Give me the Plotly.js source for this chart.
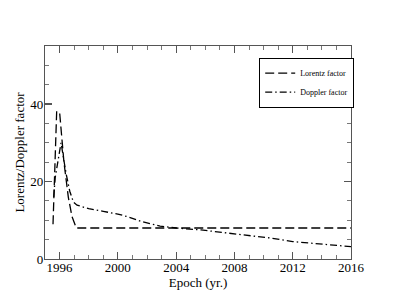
<!DOCTYPE html>
<html><head><meta charset="utf-8">
<script src="https://cdn.plot.ly/plotly-3.0.1.min.js"></script>
<style>html,body{margin:0;padding:0;background:#fff}#c{width:395px;height:305px}</style>
</head><body><div id="c"></div>
<script>
const lorentzYears = [1995.55, 1995.8, 1996.0, 1996.3, 1996.6, 1996.85, 1997.15, 2016];
const lorentzValues = [9, 38, 38, 25, 16, 11, 8, 8];
const dopplerYears = [1995.6, 1995.7, 1996.1, 1996.45, 1996.7, 1996.95, 1997.2, 1998, 1999, 2000, 2000.7, 2001.7, 2002.9, 2004, 2005.7, 2008, 2010.5, 2012, 2014, 2016];
const dopplerValues = [16, 21, 30, 22, 17.5, 14.7, 13.9, 13, 12.3, 11.6, 10.9, 9.6, 8.5, 8, 7.5, 6.5, 5.4, 4.5, 3.8, 3.2];
const seriesNames = ["Lorentz factor", "Doppler factor"];
const xTicks = [1996, 2000, 2004, 2008, 2012, 2016];
const yTicks = [0, 20, 40];

const font = "Liberation Serif, Times New Roman, serif";
const data = [
  {x: lorentzYears, y: lorentzValues, name: seriesNames[0], mode: "lines",
   line: {color: "#000", width: 1.3, dash: "9px,4px"}},
  {x: dopplerYears, y: dopplerValues, name: seriesNames[1], mode: "lines",
   line: {color: "#000", width: 1.3, dash: "7px,3px,1.5px,3px"}}
];
const axisCommon = {
  showline: true, linecolor: "#555", linewidth: 1.2, mirror: "ticks",
  ticks: "inside", ticklen: 7, tickwidth: 1.2, tickcolor: "#555",
  showgrid: false, zeroline: false,
  tickfont: {family: font, size: 13, color: "#000"},
  minor: {ticks: "inside", ticklen: 4, tickcolor: "#777", tickwidth: 1}
};
const layout = {
  width: 395, height: 305,
  margin: {l: 45, r: 44, t: 46, b: 46},
  paper_bgcolor: "#fff", plot_bgcolor: "#fff",
  showlegend: true,
  legend: {x: 0.70, y: 0.945, xanchor: "left", yanchor: "top",
    bordercolor: "#000", borderwidth: 1, bgcolor: "#fff",
    font: {family: font, size: 8, color: "#000"},
    tracegroupgap: 0, itemwidth: 30},
  xaxis: Object.assign({}, axisCommon, {
    range: [1995, 2016], tickvals: xTicks, ticktext: xTicks.map(String),
    ticklabelstandoff: -4,
    minor: Object.assign({}, axisCommon.minor, {dtick: 1, tick0: 1995}),
    title: {text: "Epoch (yr.)", font: {family: font, size: 13, color: "#000"}, standoff: 0}
  }),
  yaxis: Object.assign({}, axisCommon, {
    range: [0, 55], tickvals: yTicks, ticktext: yTicks.map(String),
    ticklabelstandoff: -2,
    minor: Object.assign({}, axisCommon.minor, {dtick: 5, tick0: 0}),
    title: {text: "Lorentz/Doppler factor", font: {family: font, size: 13, color: "#000"}, standoff: 2}
  })
};
Plotly.newPlot("c", data, layout, {displayModeBar: false, staticPlot: true});
</script></body></html>
